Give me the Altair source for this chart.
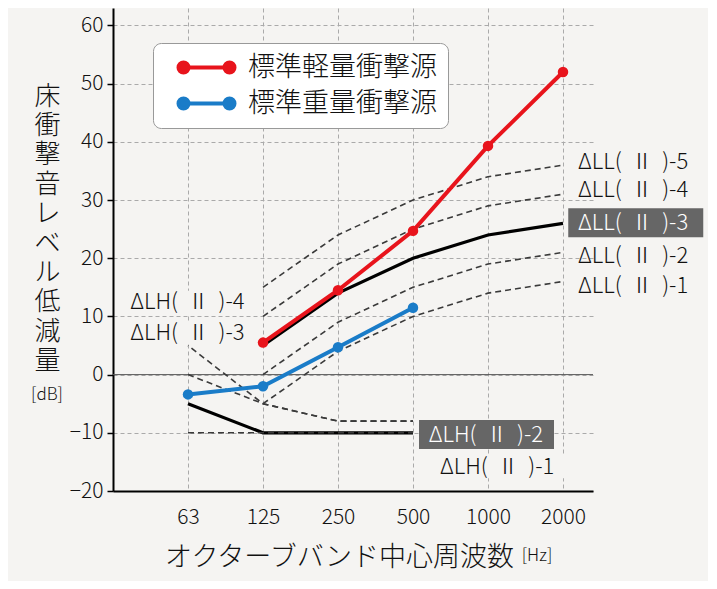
import altair as alt
import pandas as pd

FONT = "Noto Sans CJK JP"
FW = 300
BG = "#f5f4f2"

bands = ["63", "125", "250", "500", "1000", "2000"]
light_name = "標準軽量衝撃源"
heavy_name = "標準重量衝撃源"
light = [None, 5.5, 14.5, 24.7, 39.3, 52.0]
heavy = [-3.4, -2.0, 4.7, 11.5, None, None]

LL5 = [None, 15, 24, 30, 34, 36]
LL4 = [None, 10, 19, 25, 29, 31]
LL3 = [None, 5, 14, 20, 24, 26]
LL2 = [None, 0, 9, 15, 19, 21]
LL1 = [None, -5, 4, 10, 14, 16]
LH4 = [5, -5, -8, -8, None, None]
LH3 = [0, -5, -8, -8, None, None]
LH2 = [-5, -10, -10, -10, None, None]
LH1 = [-10, -10, -10, -10, None, None]

dashed_refs = {"ΔLL(Ⅱ)-5": LL5, "ΔLL(Ⅱ)-4": LL4, "ΔLL(Ⅱ)-2": LL2, "ΔLL(Ⅱ)-1": LL1,
               "ΔLH(Ⅱ)-3": LH3, "ΔLH(Ⅱ)-1": LH1}
shifted_refs = {"ΔLH(Ⅱ)-4": LH4}
solid_refs = {"ΔLL(Ⅱ)-3": LL3, "ΔLH(Ⅱ)-2": LH2}


def long(d):
    rows = []
    for name, vals in d.items():
        for i, v in enumerate(vals):
            if v is not None:
                rows.append({"name": name, "i": i, "v": v})
    return pd.DataFrame(rows)


dashed_df = long(dashed_refs)
shifted_df = long(shifted_refs)
solid_df = long(solid_refs)
meas_df = long({light_name: light, heavy_name: heavy})

L = "(\u2009 "
R = " \u2009)"
# label anchors (index units / dB); bg: 0 none, 1 page-coloured, 2 dark highlight
labels = pd.DataFrame([
    {"t": f"ΔLL{L}Ⅱ{R}-5", "x": 5.2, "y": 36.6, "bg": 0},
    {"t": f"ΔLL{L}Ⅱ{R}-4", "x": 5.2, "y": 31.8, "bg": 0},
    {"t": f"ΔLL{L}Ⅱ{R}-3", "x": 5.2, "y": 26.1, "bg": 2},
    {"t": f"ΔLL{L}Ⅱ{R}-2", "x": 5.2, "y": 20.3, "bg": 0},
    {"t": f"ΔLL{L}Ⅱ{R}-1", "x": 5.2, "y": 15.3, "bg": 0},
    {"t": f"ΔLH{L}Ⅱ{R}-4", "x": -0.77, "y": 12.4, "bg": 1},
    {"t": f"ΔLH{L}Ⅱ{R}-3", "x": -0.77, "y": 7.2, "bg": 1},
    {"t": f"ΔLH{L}Ⅱ{R}-2", "x": 3.21, "y": -10.3, "bg": 2},
    {"t": f"ΔLH{L}Ⅱ{R}-1", "x": 3.36, "y": -15.8, "bg": 1},
])
box_df = labels[labels.bg > 0].copy()
box_df["x1"] = box_df.x - 0.13
box_df["x2"] = box_df.x + 1.67
box_df["y1"] = box_df.y + box_df.bg.map({1: 2.0, 2: 2.5})
box_df["y2"] = box_df.y - box_df.bg.map({1: 2.0, 2: 2.5})

label_expr = "[" + ",".join(f"'{b}'" for b in bands) + "][datum.value]"

xs = alt.Scale(domain=[-1, 5.4], nice=False, zero=False)
ys = alt.Scale(domain=[-20, 63], nice=False, zero=False)

x_axis = alt.Axis(values=list(range(len(bands))), labelExpr=label_expr, ticks=False,
                  labelPadding=15, labelFontSize=21, title="オクターブバンド中心周波数",
                  titleFontSize=27, titleX=226, titleY=66,
                  titleBaseline="middle", titleAlign="center", grid=True)
y_title = ["床", "衝", "撃", "音", "レ", "ベ", "ル", "低", "減", "量"]
y_axis = alt.Axis(values=list(range(-20, 61, 10)), labelFontSize=21, labelPadding=4,
                  tickSize=6, tickColor="black", tickWidth=1.5, title=y_title,
                  titleAngle=0, titleAlign="center", titleBaseline="top", titleX=-66,
                  titleY=75, titleLineHeight=29.4, titleFontSize=26,
                  grid=True)

base_x = alt.X("i:Q", scale=xs, axis=x_axis)
base_y = alt.Y("v:Q", scale=ys, axis=y_axis)

zero = alt.Chart(pd.DataFrame({"v": [0]})).mark_rule(color="#555", strokeWidth=1).encode(
    y=alt.Y("v:Q", scale=ys))

boxes = alt.Chart(box_df).mark_rect().encode(
    x="x1:Q", x2="x2", y="y1:Q", y2="y2",
    color=alt.condition("datum.bg == 2", alt.value("#666666"), alt.value(BG)))

solid = alt.Chart(solid_df).mark_line(color="black", strokeWidth=3.2).encode(
    x=base_x, y=base_y, detail="name:N")
dashed = alt.Chart(dashed_df).mark_line(color="#3a3a3a", strokeWidth=1.6, strokeDash=[6, 4]).encode(
    x="i:Q", y="v:Q", detail="name:N")
shifted = alt.Chart(shifted_df).mark_line(color="#3a3a3a", strokeWidth=1.6, strokeDash=[6, 4],
                                          strokeDashOffset=5.6).encode(
    x="i:Q", y="v:Q", detail="name:N")

color = alt.Color("name:N", scale=alt.Scale(domain=[light_name, heavy_name], range=["#e8141c", "#1a7cc8"]),
                  legend=alt.Legend(title=None, orient="none", legendX=40, legendY=35,
                                    symbolType="M-2.3,0H2.3M-2.8,0A0.5,0.5 0 1,0 -1.8,0A0.5,0.5 0 1,0 -2.8,0ZM1.8,0A0.5,0.5 0 1,0 2.8,0A0.5,0.5 0 1,0 1.8,0Z",
                                    symbolSize=400, symbolStrokeWidth=4, symbolOffset=29,
                                    labelFontSize=27, labelOffset=28, rowPadding=8, padding=11,
                                    labelLimit=500, labelFontWeight=FW,
                                    fillColor="white", strokeColor="#999", cornerRadius=8,
                                    labelFont=FONT, labelColor="#111"))
meas_line = alt.Chart(meas_df).mark_line(strokeWidth=4).encode(x="i:Q", y="v:Q", color=color)
meas_pts = alt.Chart(meas_df).mark_circle(size=110, opacity=1).encode(x="i:Q", y="v:Q", color=color)

texts = alt.Chart(labels).mark_text(align="left", baseline="middle", fontSize=22, font=FONT,
                                    fontWeight=FW).encode(
    x="x:Q", y="y:Q", text="t:N",
    color=alt.condition("datum.bg == 2", alt.value("white"), alt.value("#111")))

db = alt.Chart(pd.DataFrame({"t": ["[dB]"]})).mark_text(fontSize=17, font=FONT, fontWeight=FW,
                                                        color="#111").encode(
    x=alt.value(-66), y=alt.value(387), text="t:N")
hz = alt.Chart(pd.DataFrame({"t": ["[Hz]"]})).mark_text(fontSize=17, font=FONT, fontWeight=FW,
                                                        color="#111").encode(
    x=alt.value(424), y=alt.value(548), text="t:N")

chart = alt.layer(zero, boxes, solid, dashed, shifted, meas_line, meas_pts, texts, db, hz).properties(
    width=480, height=483, background=BG,
    autosize=alt.AutoSizeParams(type="none"),
    padding={"left": 105, "top": 0, "right": 115, "bottom": 90},
).configure_view(stroke=None).configure_axis(
    domainColor="black", domainWidth=2, gridColor="#aaaaaa", gridDash=[4, 3], gridWidth=1,
    labelFont=FONT, titleFont=FONT, labelColor="#111", titleColor="#111",
    labelFontWeight=FW, titleFontWeight=FW,
)

chart.save("out.html", embed_options={"renderer": "svg", "actions": False})
